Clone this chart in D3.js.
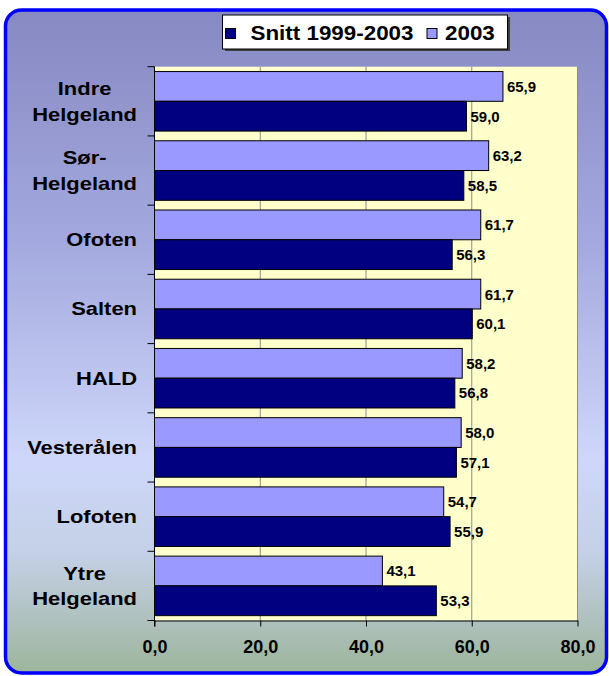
<!DOCTYPE html>
<html>
<head>
<meta charset="utf-8">
<script src="https://cdn.jsdelivr.net/npm/d3@7"></script>
<style>
  html, body { margin: 0; padding: 0; background: #fff; }
  svg { display: block; font-family: Arial, "Liberation Sans", sans-serif; font-weight: bold; }
</style>
</head>
<body>
<svg id="chart"></svg>
<script>
const categories = ["Indre\nHelgeland", "Sør-\nHelgeland", "Ofoten", "Salten", "HALD", "Vesterålen", "Lofoten", "Ytre\nHelgeland"];
const seriesNames = ["Snitt 1999-2003", "2003"];
const snitt = [59.0, 58.5, 56.3, 60.1, 56.8, 57.1, 55.9, 53.3];
const y2003 = [65.9, 63.2, 61.7, 61.7, 58.2, 58.0, 54.7, 43.1];
const xTicks = [0, 20, 40, 60, 80];

const width = 609, height = 676;
const margin = { left: 154.5, right: 31.5, top: 66.7, bottom: 55.5 };
const colors = { snitt: "#000080", y2003: "#9999FF" };

const fmt = (v) => d3.format(".1f")(v).replace(".", ",");

const svg = d3.select("#chart").attr("width", width).attr("height", height);

// background gradient + frame
const defs = svg.append("defs");
const grad = defs.append("linearGradient").attr("id", "bg").attr("x1", 0).attr("y1", 0).attr("x2", 0).attr("y2", 1);
[[0, "#8789C2"], [0.35, "#A3A9DE"], [0.68, "#CED7FA"], [0.82, "#C4D0E6"], [0.9, "#B3C4C6"], [1, "#9DB59B"]]
  .forEach(([o, c]) => grad.append("stop").attr("offset", o).attr("stop-color", c));

svg.append("rect")
  .attr("x", 5.5).attr("y", 10).attr("width", 601).attr("height", 663)
  .attr("rx", 16).attr("ry", 16)
  .attr("fill", "url(#bg)")
  .attr("stroke", "#0000FF").attr("stroke-width", 3.5);

const x = d3.scaleLinear().domain([0, 80]).range([margin.left, width - margin.right]);

const y = d3.scaleBand()
  .domain(d3.range(categories.length))
  .range([margin.top, height - margin.bottom])
  .paddingInner(0.14)
  .paddingOuter(0.07);

const ySub = d3.scaleBand().domain(["y2003", "snitt"]).range([0, y.bandwidth()]);

// plot area
svg.append("rect")
  .attr("x", x(0)).attr("y", margin.top)
  .attr("width", x(80) - x(0)).attr("height", height - margin.bottom - margin.top)
  .attr("fill", "#FFFFCC");

// gridlines
svg.append("g")
  .selectAll("line")
  .data(xTicks.slice(1))
  .join("line")
  .attr("x1", (d) => x(d)).attr("x2", (d) => x(d))
  .attr("y1", margin.top).attr("y2", height - margin.bottom)
  .attr("stroke", "#8c8c8c").attr("stroke-width", 1);

// bars
const rows = categories.map((c, i) => ({ i, snitt: snitt[i], y2003: y2003[i] }));
const group = svg.append("g")
  .selectAll("g")
  .data(rows)
  .join("g")
  .attr("transform", (d) => `translate(0,${y(d.i)})`);

group.selectAll("rect")
  .data((d) => ["y2003", "snitt"].map((k) => ({ k, v: d[k] })))
  .join("rect")
  .attr("x", x(0))
  .attr("y", (d) => ySub(d.k))
  .attr("width", (d) => x(d.v) - x(0))
  .attr("height", ySub.bandwidth())
  .attr("fill", (d) => colors[d.k])
  .attr("stroke", "#000").attr("stroke-width", 1);

group.selectAll("text")
  .data((d) => ["y2003", "snitt"].map((k) => ({ k, v: d[k] })))
  .join("text")
  .attr("x", (d) => x(d.v) + 4)
  .attr("y", (d) => ySub(d.k) + ySub.bandwidth() / 2)
  .attr("dy", "0.36em")
  .attr("font-size", 15)
  .attr("fill", "#000")
  .text((d) => fmt(d.v));

// x axis
const xAxis = svg.append("g")
  .attr("transform", `translate(0,${height - margin.bottom})`)
  .call(d3.axisBottom(x).tickValues(xTicks).tickSize(6).tickPadding(14).tickFormat(fmt).tickSizeOuter(0));
xAxis.select(".domain").attr("stroke", "#000");
xAxis.selectAll("text").attr("font-size", 18).attr("font-family", "Arial, 'Liberation Sans', sans-serif").attr("font-weight", "bold").attr("fill", "#000");
xAxis.append("line").attr("x1", x(0) - 7).attr("x2", x(0)).attr("stroke", "#000");

// y axis (ticks at category boundaries)
const step = y.step();
const yAxis = svg.append("g");
yAxis.append("line")
  .attr("x1", x(0)).attr("x2", x(0))
  .attr("y1", margin.top).attr("y2", height - margin.bottom + 6)
  .attr("stroke", "#000");
yAxis.selectAll(".tick")
  .data(d3.range(categories.length))
  .join("line")
  .attr("class", "tick")
  .attr("x1", x(0) - 7).attr("x2", x(0))
  .attr("y1", (d) => y(d) - step * y.paddingInner() / 2)
  .attr("y2", (d) => y(d) - step * y.paddingInner() / 2)
  .attr("stroke", "#000");

// category labels: block right aligned, lines centered, stretched like the original
const sx = 1.22;
const labelRight = 137;
const lineH = 25.7;
categories.forEach((c, i) => {
  const lines = c.split("\n");
  const cy = y(i) + y.bandwidth() / 2;
  const g = svg.append("g").attr("transform", `translate(${labelRight},0) scale(${sx},1)`);
  const t = g.append("text")
    .attr("font-size", 18)
    .attr("text-anchor", "middle")
    .attr("fill", "#000");
  const spans = lines.map((l, j) => t.append("tspan")
    .attr("y", cy + (j - (lines.length - 1) / 2) * lineH)
    .attr("dy", "0.36em")
    .text(l));
  const w = d3.max(spans, (s) => s.node().getComputedTextLength());
  spans.forEach((s) => s.attr("x", -w / 2));
});

// legend
const lg = svg.append("g");
lg.append("rect").attr("x", 225).attr("y", 17).attr("width", 285).attr("height", 34).attr("fill", "#404040");
lg.append("rect").attr("x", 222.5).attr("y", 15).attr("width", 285).attr("height", 34)
  .attr("fill", "#fff").attr("stroke", "#000").attr("stroke-width", 1);
const legendItems = [
  { name: seriesNames[0], color: colors.snitt, sx: 225.5, tx: 250.5 },
  { name: seriesNames[1], color: colors.y2003, sx: 427, tx: 445 },
];
legendItems.forEach((d) => {
  lg.append("rect").attr("x", d.sx).attr("y", 28.5).attr("width", 10).attr("height", 10)
    .attr("fill", d.color).attr("stroke", "#000").attr("stroke-width", 1);
  lg.append("g").attr("transform", `translate(${d.tx},39.5) scale(1.12,1)`)
    .append("text").attr("font-size", 20).attr("fill", "#000").text(d.name);
});
</script>
</body>
</html>
